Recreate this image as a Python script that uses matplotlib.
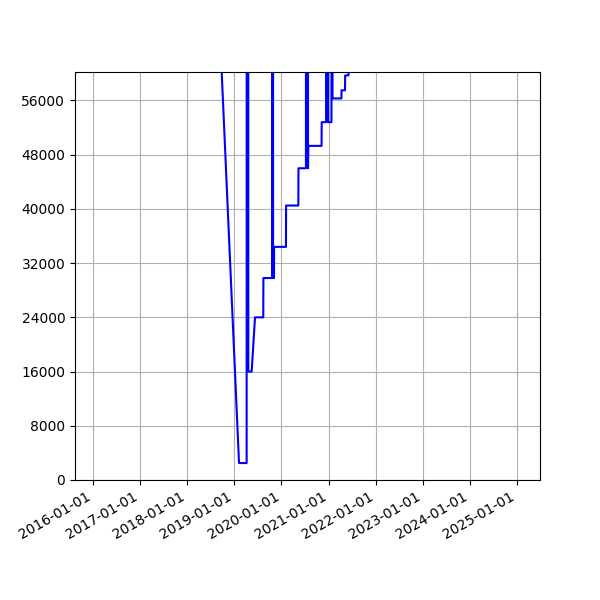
import numpy as np
import matplotlib
matplotlib.use('Agg')
import matplotlib.pyplot as plt
import matplotlib.dates as mdates
from matplotlib.ticker import MultipleLocator

# values; the very large ones run off the top of the plot
dates = np.array([
    '2018-08-01', '2019-02-06', '2019-04-06', '2019-04-13', '2019-04-19',
    '2019-05-15', '2019-06-10', '2019-08-13', '2019-08-14', '2019-10-20',
    '2019-10-24', '2019-10-28', '2019-11-04', '2019-11-05', '2020-02-05',
    '2020-02-06', '2020-05-11', '2020-05-12', '2020-07-09', '2020-07-17',
    '2020-07-25', '2020-07-27', '2020-11-07', '2020-11-08', '2020-12-12',
    '2020-12-20', '2020-12-27', '2021-01-23', '2021-01-27', '2021-01-31',
    '2021-04-10', '2021-04-11', '2021-05-08', '2021-05-09', '2021-06-04',
    '2021-06-06',
], dtype='datetime64[D]')
values = [
    83600, 2500, 2500, 1000000, 16000,
    16000, 24000, 24000, 29800, 29800,
    1000000, 29800, 29800, 34400, 34400,
    40500, 40500, 46000, 46000, 1000000,
    46000, 49300, 49300, 52800, 52800,
    1000000, 52800, 52800, 1000000, 56300,
    56300, 57500, 57500, 59700, 59700,
    1000000,
]

fig, ax = plt.subplots(figsize=(6, 6), dpi=100)
ax.plot(dates, values, color='blue')

ax.set_xlim(np.datetime64('2015-08-14'), np.datetime64('2025-06-28'))
ax.set_ylim(0, 60200)
ax.yaxis.set_major_locator(MultipleLocator(8000))
ax.xaxis.set_major_locator(mdates.YearLocator())
ax.xaxis.set_major_formatter(mdates.DateFormatter('%Y-%m-%d'))
ax.grid(True)
fig.autofmt_xdate()

fig.savefig('out.png')
